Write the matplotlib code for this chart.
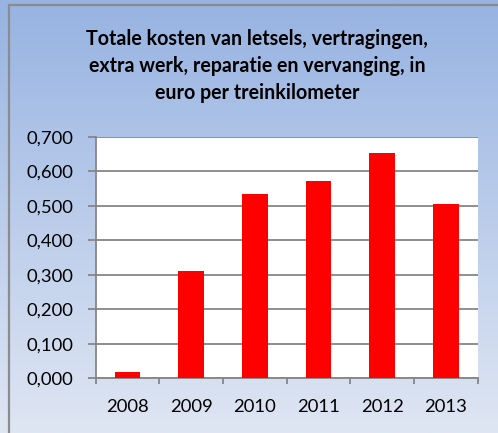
import numpy as np
import matplotlib
matplotlib.use("Agg")
import matplotlib.pyplot as plt
from matplotlib.patches import Rectangle

years = ["2008", "2009", "2010", "2011", "2012", "2013"]
values = [0.017, 0.312, 0.534, 0.573, 0.653, 0.506]
yticks = [0.0, 0.1, 0.2, 0.3, 0.4, 0.5, 0.6, 0.7]
ytick_labels = ["0,000", "0,100", "0,200", "0,300", "0,400", "0,500", "0,600", "0,700"]
title = "Totale kosten van letsels, vertragingen,\nextra werk, reparatie en vervanging, in\neuro per treinkilometer"

W, H = 498, 433
plt.rcParams['font.family'] = ['Lato', 'DejaVu Sans']
fig = plt.figure(figsize=(W / 100, H / 100), dpi=100)

# gradient background
bg = fig.add_axes([0, 0, 1, 1], zorder=-10)
top = np.array([0x97, 0xB3, 0xE2]) / 255
bot = np.array([0xDF, 0xE6, 0xF3]) / 255
t = np.linspace(0, 1, 256)[:, None]
grad = top[None, :] * (1 - t) + bot[None, :] * t
bg.imshow(grad[:, None, :], aspect='auto', extent=[0, 1, 0, 1], origin='upper')
bg.set_xlim(0, 1); bg.set_ylim(0, 1)
bg.axis('off')
bg.add_patch(Rectangle((9 / W, -0.1), 1.2, (H - 5) / H + 0.1, fill=False,
                       edgecolor='#8C8C8C', linewidth=1.6, transform=bg.transAxes))

fig.text(257 / W, 1 - 66 / H, title, ha='center', va='center', fontsize=14.1,
         fontweight='bold', linespacing=1.45, color='black')

ax = fig.add_axes([95.7 / W, 54.7 / H, 382 / W, 241.6 / H])
ax.set_facecolor('white')
x = np.arange(len(years))
ax.bar(x, values, width=0.4, color='#FF0000', zorder=3)
ax.set_xlim(-0.5, len(years) - 0.5)
ax.set_ylim(0, 0.7)
ax.set_yticks(yticks)
ax.set_yticklabels(ytick_labels)
ax.yaxis.grid(True, color='#868686', linewidth=1.3, zorder=0)
ax.set_xticks(x)
ax.set_xticklabels(years)
ax.set_xticks(np.arange(-0.5, len(years)), minor=True)
ax.tick_params(axis='x', which='major', length=0, pad=15, labelsize=13.3)
ax.tick_params(axis='x', which='minor', length=4.2, width=1.3, color='#868686', direction='out')
ax.tick_params(axis='y', length=6, width=1.3, color='#868686', pad=10, labelsize=13.3)
for s in ['top', 'right']:
    ax.spines[s].set_visible(False)
for s in ['left', 'bottom']:
    ax.spines[s].set_color('#868686')
    ax.spines[s].set_linewidth(1.3)

fig.savefig("out.png", dpi=100)
